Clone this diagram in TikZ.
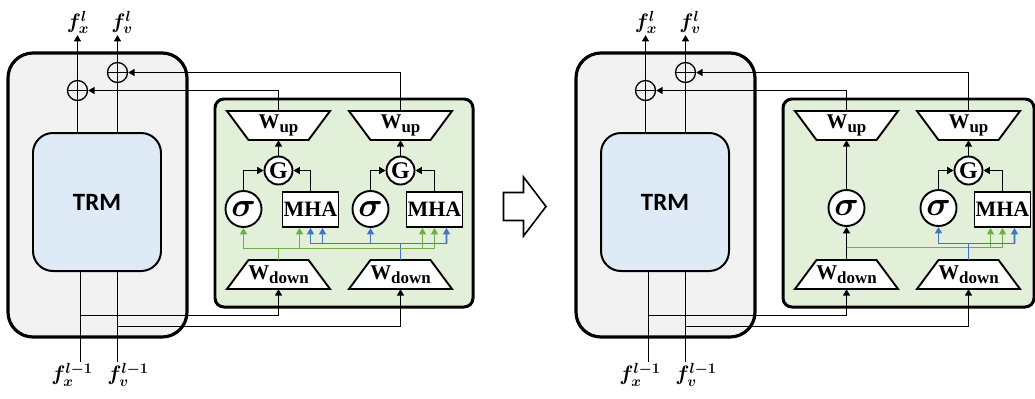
\RequirePackage{fix-cm}
\documentclass[tikz,border=0pt]{standalone}
\usepackage{fontspec}
\setmainfont{Liberation Serif}
\newfontfamily\trmfont{Carlito}
\usepackage{bm}
\usetikzlibrary{arrows.meta}
\definecolor{graybg}{HTML}{F2F2F2}
\definecolor{trmblue}{HTML}{DEEBF7}
\definecolor{greenbg}{HTML}{E2F0D9}
\definecolor{lgreen}{HTML}{70AD47}
\definecolor{lblue}{HTML}{4472C4}
\newcommand{\Wup}{{\fontsize{21}{21}\selectfont\bfseries W}\raisebox{-3.5pt}{\fontsize{17}{17}\selectfont\bfseries up}}
\newcommand{\Wdown}{{\fontsize{21}{21}\selectfont\bfseries W}\raisebox{-3.5pt}{\fontsize{17}{17}\selectfont\bfseries down}}
\newcommand{\trapU}[4]{%
  \draw[trapline] (#2-51.5,#3-14.5) -- (#2+51.5,#3-14.5) -- (#2+30,#3+14.5) -- (#2-30,#3+14.5) -- cycle;
  \node[wtext] (#1) at (#2,#3) {#4};}
\newcommand{\trapD}[4]{%
  \draw[trapline] (#2-30,#3-14.5) -- (#2+30,#3-14.5) -- (#2+51.5,#3+14.5) -- (#2-51.5,#3+14.5) -- cycle;
  \node[wtext] (#1) at (#2,#3) {#4};}
\newcommand{\panelbase}[2]{%
  \node[graybox] (gbox) at (97.5,195) {};
  \node[trmbox] (trm) at (97,202) {TRM};
  \node[oplus] (ox) at (77.5,90.5) {};
  \node[oplus] (ov) at (117.5,72.5) {};
  \node[flab, anchor=south] (fxt) at (78,35) {$\bm{f}_{\bm{x}}^{\bm{l}}$};
  \node[flab, anchor=south] (fvt) at (122,35) {$\bm{f}_{\bm{v}}^{\bm{l}}$};
  \node[flab, anchor=north] (fxb) at (72,362) {$\bm{f}_{\bm{x}}^{\bm{l-1}}$};
  \node[flab, anchor=north] (fvb) at (128,362) {$\bm{f}_{\bm{v}}^{\bm{l-1}}$};
  \draw[plain] (trm.north -| ox) -- (ox.south);
  \draw[conn] (ox.north) -- (ox.north |- fxt.south);
  \draw[plain] (trm.north -| ov) -- (ov.south);
  \draw[conn] (ov.north) -- (ov.north |- fvt.south);
  \coordinate (bx) at (80.5,315.5);
  \coordinate (bv) at (117.5,326.5);
  \draw[plain] (trm.south -| bx) -- (bx |- fxb.north);
  \draw[plain] (trm.south -| bv) -- (bv |- fvb.north);
  \node[greenbox, minimum width=#2] (gb) at (#1,203) {};
  \trapU{wu1}{278.5}{125.5}{\Wup}
  \trapU{wu2}{400.5}{125.5}{\Wup}
  \trapD{wd1}{278.5}{274.5}{\Wdown}
  \trapD{wd2}{400.5}{274.5}{\Wdown}
  \draw[conn] (wu1.north) |- (ox.east);
  \draw[conn] (wu2.north) |- (ov.east);
  \draw[conn] (bx) -| (wd1.south);
  \draw[conn] (bv) -| (wd2.south);
}
\begin{document}
\begin{tikzpicture}[x=1bp,y=-1bp,
  plain/.style={line width=1.9pt},
  conn/.style={line width=1.9pt,-{Triangle[length=6.5pt,width=7pt]}},
  gline/.style={line width=1.9pt,draw=lgreen},
  bline/.style={line width=1.9pt,draw=lblue},
  gconn/.style={conn,draw=lgreen},
  bconn/.style={conn,draw=lblue},
  graybox/.style={draw,line width=3.2pt,fill=graybg,rounded corners=25pt,minimum width=179bp,minimum height=284bp,inner sep=0},
  trmbox/.style={draw,line width=2pt,fill=trmblue,rounded corners=20pt,minimum width=128bp,minimum height=138bp,inner sep=0,font=\trmfont\fontsize{25}{25}\selectfont\bfseries},
  greenbox/.style={draw,line width=3pt,fill=greenbg,rounded corners=9pt,minimum height=208bp,inner sep=0},
  oplus/.style={circle,draw,line width=1.3pt,minimum size=20bp,inner sep=0,
    path picture={\draw[line width=1.3pt] (path picture bounding box.north) -- (path picture bounding box.south) (path picture bounding box.west) -- (path picture bounding box.east);}},
  flab/.style={inner sep=1pt,font=\fontsize{21}{21}\selectfont},
  trapline/.style={draw,line width=1.9pt,fill=white,line join=miter},
  wtext/.style={minimum width=60bp,minimum height=29bp,inner sep=0},
  gcirc/.style={circle,draw,line width=1.9pt,fill=white,minimum size=28bp,inner sep=0,font=\fontsize{24}{24}\selectfont\bfseries},
  scirc/.style={circle,draw,line width=1.9pt,fill=white,minimum size=36bp,inner sep=0,font=\fontsize{34}{34}\selectfont},
  mbox/.style={draw,line width=1.9pt,fill=white,minimum width=56bp,minimum height=35bp,inner sep=0,font=\fontsize{22}{22}\selectfont\bfseries}
]
\useasboundingbox (0,0) rectangle (1035,398);
% ---------------- left panel ----------------
\begin{scope}[name prefix=L-]
  \panelbase{344}{258bp}
  \node[gcirc] (g1) at (278.5,170.5) {G};
  \node[scirc] (s1) at (243.5,209) {$\bm{\sigma}$};
  \node[mbox] (m1) at (310.5,209.5) {MHA};
  \node[gcirc] (g2) at (400.5,170.5) {G};
  \node[scirc] (s2) at (370.5,209) {$\bm{\sigma}$};
  \node[mbox] (m2) at (434.5,209.5) {MHA};
  \draw[conn] (g1.north) -- (wu1.south);
  \draw[conn] (s1.north) |- (g1.west);
  \draw[conn] (m1.north) |- (g1.east);
  \draw[conn] (g2.north) -- (wu2.south);
  \draw[conn] (s2.north) |- (g2.west);
  \draw[conn] (m2.north) |- (g2.east);
  % blue bus
  \coordinate (bL) at (310.5,243.5);
  \coordinate (bR) at (446.5,243.5);
  \draw[bline] (wd2.north) -- (wd2.north |- bL);
  \draw[bline] (bL) -- (bR);
  \draw[bconn] (bL) -- (m1.south);
  \draw[bconn] ([xshift=12bp]m1.south |- bL) -- ([xshift=12bp]m1.south);
  \draw[bconn] (s2.south |- bL) -- (s2.south);
  \draw[bconn] (bR) -- ([xshift=12bp]m2.south);
  % green bus
  \coordinate (gL) at (243.5,248.5);
  \coordinate (gR) at (434.5,248.5);
  \draw[gline] (wd1.north) -- (wd1.north |- gL);
  \draw[gline] (gL) -- (gR);
  \draw[gconn] (gL) -- (s1.south);
  \draw[gconn] ([xshift=-11bp]m1.south |- gL) -- ([xshift=-11bp]m1.south);
  \draw[gconn] ([xshift=-12bp]m2.south |- gL) -- ([xshift=-12bp]m2.south);
  \draw[gconn] (gR) -- (m2.south);
\end{scope}
% ---------------- block arrow ----------------
\draw[line width=1.6pt,fill=white,line join=miter] (503.5,192.5) -- (523.5,192.5) -- (523.5,177) -- (546,206.5) -- (523.5,236) -- (523.5,220.5) -- (503.5,220.5) -- cycle;
% ---------------- right panel ----------------
\begin{scope}[xshift=568bp,name prefix=R-]
  \panelbase{340.5}{251bp}
  \node[scirc] (s1) at (278.5,208) {$\bm{\sigma}$};
  \node[gcirc] (g2) at (400.5,170.5) {G};
  \node[scirc] (s2) at (370.5,208) {$\bm{\sigma}$};
  \node[mbox] (m2) at (434.5,209.5) {MHA};
  \draw[conn] (g2.north) -- (wu2.south);
  \draw[conn] (s2.north) |- (g2.west);
  \draw[conn] (m2.north) |- (g2.east);
  % green bus
  \coordinate (gL) at (278.5,247.5);
  \coordinate (gR) at (434.5,247.5);
  \draw[gline] (gL) -- (gR);
  \draw[gconn] ([xshift=-12bp]m2.south |- gL) -- ([xshift=-12bp]m2.south);
  \draw[gconn] (gR) -- (m2.south);
  % blue bus
  \coordinate (bL) at (370.5,243.5);
  \coordinate (bR) at (446.5,243.5);
  \draw[bline] (wd2.north) -- (wd2.north |- bL);
  \draw[bline] (bL) -- (bR);
  \draw[bconn] (bL) -- (s2.south);
  \draw[bconn] (bR) -- ([xshift=12bp]m2.south);
  % black path
  \draw[conn] (wd1.north) -- (s1.south);
  \draw[conn] (s1.north) -- (wu1.south);
\end{scope}
\end{tikzpicture}
\end{document}
